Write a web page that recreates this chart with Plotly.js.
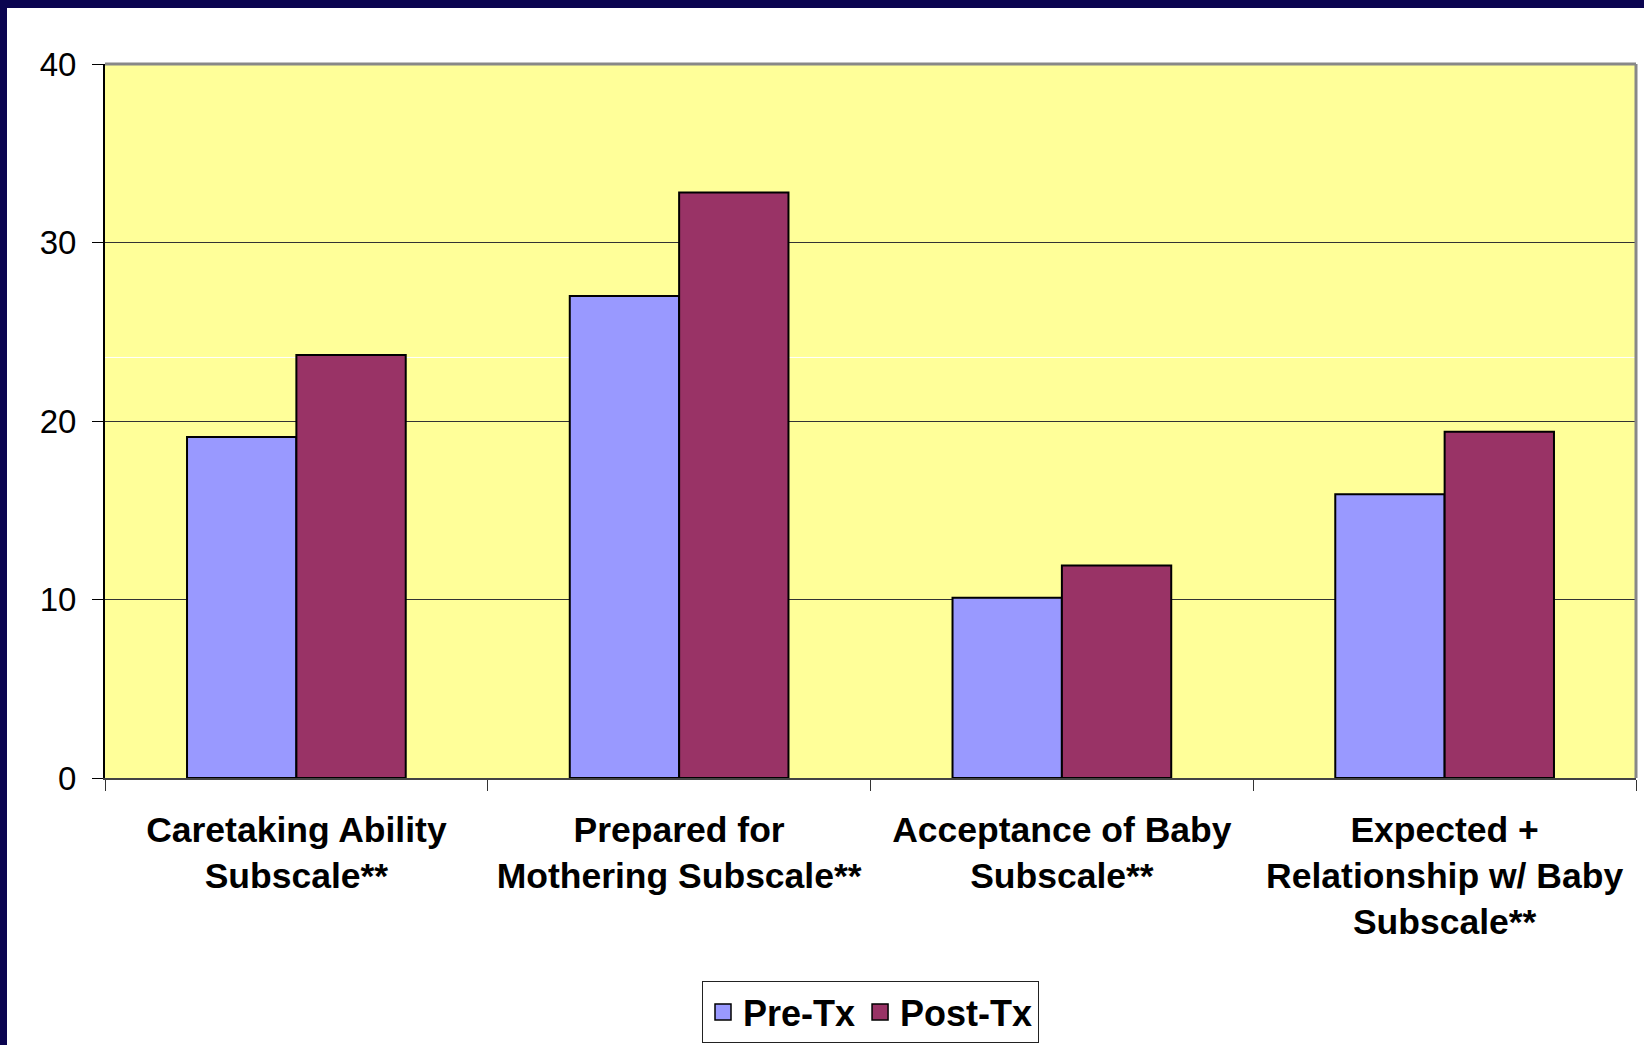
<!DOCTYPE html>
<html>
<head>
<meta charset="utf-8">
<script src="https://cdn.plot.ly/plotly-3.0.1.min.js"></script>
<style>
  html, body { margin: 0; padding: 0; width: 1644px; height: 1045px; overflow: hidden; background: #0a0450; }
  #chart { position: absolute; left: 7px; top: 8px; width: 1637px; height: 1037px; background: #ffffff; }
</style>
</head>
<body>
<div id="chart"></div>
<script>
const categories = [
  "Caretaking Ability<br>Subscale**",
  "Prepared for<br>Mothering Subscale**",
  "Acceptance of Baby<br>Subscale**",
  "Expected +<br>Relationship w/ Baby<br>Subscale**"
];
const seriesNames = ["Pre-Tx", "Post-Tx"];
const preTx  = [19.1, 27.0, 10.1, 15.9];
const postTx = [23.7, 32.8, 11.9, 19.4];
const yTicks = [0, 10, 20, 30, 40];
const colors = ["#9999FF", "#993366"];

const FONT = "Arial, 'Liberation Sans', sans-serif";

const values = [preTx, postTx];
const traces = [];
values.forEach((vals, i) => {
  traces.push({
    type: "bar", name: seriesNames[i], x: categories, y: vals,
    legendgroup: seriesNames[i], showlegend: false,
    marker: { color: colors[i], line: { color: "#000000", width: 2 } }
  });
});
// legend-only entries with larger square swatches
values.forEach((vals, i) => {
  traces.push({
    type: "scatter", mode: "markers", name: seriesNames[i],
    x: [categories[0]], y: [null],
    legendgroup: seriesNames[i], showlegend: true,
    marker: { symbol: "square", size: 16, color: colors[i], line: { color: "#000000", width: 1.5 } }
  });
});

const layout = {
  width: 1637, height: 1037,
  margin: { l: 98, r: 8, t: 56, b: 267, pad: 0 },
  paper_bgcolor: "#ffffff",
  plot_bgcolor: "#FFFF99",
  barmode: "group",
  bargap: 0.4286,
  bargroupgap: 0,
  showlegend: true,
  hovermode: false,
  font: { family: FONT, color: "#000000" },
  xaxis: {
    type: "category", automargin: false,
    showline: true, linecolor: "#444444", linewidth: 1.5,
    ticks: "outside", tickson: "boundaries", ticklen: 11, tickcolor: "#333333", tickwidth: 1,
    tickfont: { family: FONT, size: 35.5, weight: "bold", color: "#000000" },
    ticklabelstandoff: 20,
    showgrid: false, zeroline: false
  },
  yaxis: {
    range: [0, 40], tickvals: yTicks, ticktext: yTicks.map(String), automargin: false,
    showline: true, linecolor: "#000000", linewidth: 2,
    ticks: "outside", ticklen: 11, tickcolor: "#000000", tickwidth: 1,
    tickfont: { family: FONT, size: 33, color: "#000000" },
    ticklabelstandoff: 9,
    showgrid: true, gridcolor: "#333333", gridwidth: 1,
    zeroline: false
  },
  legend: {
    orientation: "h", x: 0.5, xanchor: "center",
    yref: "container", y: 0.0617, yanchor: "top",
    bgcolor: "#ffffff", bordercolor: "#222222", borderwidth: 1,
    font: { family: FONT, size: 36, weight: "bold", color: "#000000" },
    traceorder: "normal"
  },
  shapes: [
    { type: "line", xref: "paper", yref: "paper", x0: 0, x1: 1, y0: 0.589, y1: 0.589,
      line: { color: "#ffffff", width: 1 }, layer: "below" },
    { type: "line", xref: "paper", yref: "paper", x0: 0, x1: 1, y0: 1, y1: 1,
      line: { color: "#888888", width: 3 }, layer: "above" },
    { type: "line", xref: "paper", yref: "paper", x0: 1, x1: 1, y0: 0, y1: 1,
      line: { color: "#888888", width: 3 }, layer: "above" }
  ]
};

Plotly.newPlot("chart", traces, layout, { displayModeBar: false, staticPlot: true });
</script>
</body>
</html>
